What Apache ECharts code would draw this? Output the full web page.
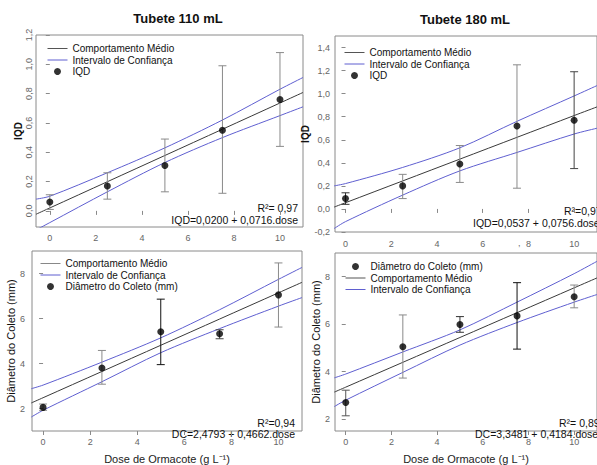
<!DOCTYPE html>
<html>
<head>
<meta charset="utf-8">
<script src="https://cdn.jsdelivr.net/npm/echarts@6/dist/echarts.min.js"></script>
<style>
html,body{margin:0;padding:0;background:#fff;}
#chart{width:597px;height:465px;}
</style>
</head>
<body>
<div id="chart"></div>
<script>
// ---------- data ----------
const doses = [0, 2.5, 5, 7.5, 10];
const xTicks = [0, 2, 4, 6, 8, 10];

// Tubete 110 mL - IQD
const iqd110 = [0.06, 0.17, 0.31, 0.55, 0.76];
const iqd110Hi = [0.11, 0.26, 0.49, 0.99, 1.08];
const iqd110Lo = [0.01, 0.08, 0.13, 0.12, 0.44];
// Tubete 180 mL - IQD
const iqd180 = [0.09, 0.20, 0.39, 0.72, 0.77];
const iqd180Hi = [0.14, 0.30, 0.55, 1.25, 1.19];
const iqd180Lo = [0.04, 0.09, 0.23, 0.18, 0.35];
// Tubete 110 mL - Diâmetro do Coleto
const dc110 = [2.05, 3.80, 5.41, 5.32, 7.05];
const dc110Hi = [2.20, 4.58, 6.86, 5.50, 8.47];
const dc110Lo = [1.92, 3.08, 3.95, 5.10, 5.62];
// Tubete 180 mL - Diâmetro do Coleto
const dc180 = [2.70, 5.05, 5.99, 6.35, 7.16];
const dc180Hi = [3.22, 6.39, 6.32, 7.75, 7.65];
const dc180Lo = [2.14, 3.73, 5.66, 4.95, 6.69];

// fitted lines and confidence bands
const bandX110 = [-0.6, 0, 2.5, 5, 7.5, 10, 11];
const bandX = [-0.5, 0, 2.5, 5, 7.5, 10, 11];
const iqd110Fit = [-0.023, 0.020, 0.199, 0.378, 0.557, 0.736, 0.808];
const iqd110Up  = [0.08, 0.10, 0.26, 0.43, 0.62, 0.83, 0.91];
const iqd110Low = [-0.13, -0.08, 0.13, 0.33, 0.50, 0.65, 0.71];
const iqd180Fit = [0.016, 0.054, 0.243, 0.432, 0.621, 0.810, 0.885];
const iqd180Up  = [0.20, 0.22, 0.36, 0.53, 0.76, 0.98, 1.07];
const iqd180Low = [-0.17, -0.11, 0.12, 0.33, 0.49, 0.65, 0.70];
const dc110Fit = [2.246, 2.479, 3.645, 4.810, 5.976, 7.141, 7.608];
const dc110Up  = [2.88, 3.04, 4.06, 5.14, 6.39, 7.74, 8.27];
const dc110Low = [1.62, 1.92, 3.19, 4.48, 5.55, 6.55, 6.93];
const dc180Fit = [3.139, 3.348, 4.394, 5.440, 6.486, 7.532, 7.950];
const dc180Up  = [3.74, 3.90, 4.83, 5.76, 6.93, 8.13, 8.65];
const dc180Low = [2.53, 2.80, 3.97, 5.12, 6.07, 6.93, 7.25];

const iqdTicks110 = [0, 0.2, 0.4, 0.6, 0.8, 1.0, 1.2];
const iqdTicks180 = [-0.2, 0, 0.2, 0.4, 0.6, 0.8, 1.0, 1.2, 1.4];
const dcTicks = [2, 4, 6, 8];

// ---------- styles ----------
const FONT = 'Liberation Sans, Arial, sans-serif';
const AX = '#8a8a8a';
const BLUE = '#5f5fd0';
const FITC = '#3a3a3a';
const errCol110 = ['#8a8a8a', '#8a8a8a', '#8a8a8a', '#8a8a8a', '#8a8a8a'];
const errCol180 = ['#333333', '#8a8a8a', '#8a8a8a', '#8a8a8a', '#444444'];
const errColDc110 = ['#8a8a8a', '#8a8a8a', '#111111', '#444444', '#8a8a8a'];
const errColDc180 = ['#555555', '#8a8a8a', '#333333', '#111111', '#8a8a8a'];

const comma = v => String(Number(v.toFixed(1))).replace('.', ',').replace(/^(-?\d+)$/, '$1,0');
const pairs = (xs, ys) => xs.map((x, i) => [x, ys[i]]);

function xAxis(gi, min, max, margin, name) {
  return {
    type: 'value', gridIndex: gi, min: min, max: max,
    splitLine: {show: false},
    axisLine: {show: false},
    axisTick: {show: true, inside: false, length: 4, lineStyle: {color: AX}, customValues: xTicks},
    axisLabel: {show: true, customValues: xTicks, margin: margin, color: '#666', fontSize: 9, fontFamily: FONT},
    name: name || '', nameLocation: 'middle', nameGap: 22,
    nameTextStyle: {color: '#222', fontSize: 11, fontFamily: FONT}
  };
}
function yAxis(gi, min, max, ticks, fmt, rotate, margin, name, nameGap, bold, nameSize) {
  return {
    type: 'value', gridIndex: gi, min: min, max: max,
    splitLine: {show: false},
    axisLine: {show: false},
    axisTick: {show: true, inside: false, length: 4, lineStyle: {color: AX}, customValues: ticks},
    axisLabel: {show: true, customValues: ticks, formatter: fmt, rotate: rotate, margin: margin,
                color: '#666', fontSize: 9, fontFamily: FONT},
    name: name, nameLocation: 'middle', nameGap: nameGap,
    nameTextStyle: {color: '#111', fontSize: nameSize, fontWeight: bold ? 'bold' : 'normal', fontFamily: FONT}
  };
}

function errSeries(gi, hi, lo, cols) {
  return {
    type: 'custom', xAxisIndex: gi, yAxisIndex: gi, silent: true, z: 3,
    data: doses.map((d, i) => [d, hi[i], lo[i], i]),
    renderItem: function (params, api) {
      const x = api.value(0);
      const p1 = api.coord([x, api.value(1)]);
      const p2 = api.coord([x, api.value(2)]);
      const c = cols[api.value(3)];
      const w = 4;
      const st = {stroke: c, lineWidth: 1};
      return {type: 'group', children: [
        {type: 'line', shape: {x1: p1[0], y1: p1[1], x2: p2[0], y2: p2[1]}, style: st},
        {type: 'line', shape: {x1: p1[0] - w, y1: p1[1], x2: p1[0] + w, y2: p1[1]}, style: st},
        {type: 'line', shape: {x1: p2[0] - w, y1: p2[1], x2: p2[0] + w, y2: p2[1]}, style: st}
      ]};
    }
  };
}
function pointSeries(gi, name, ys) {
  return {type: 'scatter', name: name, xAxisIndex: gi, yAxisIndex: gi, z: 5,
    symbol: 'circle', symbolSize: 7, itemStyle: {color: '#000'},
    data: pairs(doses, ys)};
}
function lineSeries(gi, name, xs, ys, color) {
  return {type: 'line', name: name, xAxisIndex: gi, yAxisIndex: gi, z: 2,
    showSymbol: false, symbol: 'none', smooth: 0.3, clip: true,
    lineStyle: {color: color, width: 1}, itemStyle: {color: color},
    data: pairs(xs, ys)};
}

const N1 = 'Comportamento Médio', N2 = 'Intervalo de Confiança', N3 = 'Diâmetro do Coleto (mm)';
const xName = 'Dose de Ormacote (g L⁻¹)';
const lineItem = (n, c) => ({name: n, itemStyle: {opacity: 0}, lineStyle: {width: 1, color: c}});
const dotItem = n => ({name: n, icon: 'circle', itemStyle: {color: '#000'}});

function legend(left, top, items) {
  return {
    left: left, top: top, orient: 'vertical', itemWidth: 20, itemHeight: 7, itemGap: 0.5,
    textStyle: {fontSize: 10, color: '#111', fontFamily: FONT, lineHeight: 11},
    selectedMode: false, padding: 0,
    data: items
  };
}

const grids = [
  {left: 36, top: 35, width: 267, height: 192},
  {left: 335, top: 36, width: 272, height: 196},
  {left: 32, top: 251, width: 270, height: 194},
  {left: 335, top: 253, width: 270, height: 192}
].map(g => Object.assign({show: true, borderColor: AX, borderWidth: 1, backgroundColor: 'transparent'}, g));

const option = {
  animation: false,
  backgroundColor: '#fff',
  textStyle: {fontFamily: FONT},
  grid: grids,
  xAxis: [
    xAxis(0, -0.6, 11, 6),
    xAxis(1, -0.46, 11, 7),
    xAxis(2, -0.47, 11, 6, xName),
    xAxis(3, -0.47, 11, 6, xName)
  ],
  yAxis: [
    yAxis(0, -0.11, 1.2, iqdTicks110, comma, 90, 3, 'IQD', 11, true, 10),
    yAxis(1, -0.2, 1.5, iqdTicks180, comma, 0, 5, 'IQD', 14, true, 10),
    yAxis(2, 1, 9, dcTicks, null, 0, 7, N3, 13, false, 11),
    yAxis(3, 1.5, 9, dcTicks, null, 0, 5, N3, 10, false, 11)
  ],
  legend: [
    legend(47, 43, [lineItem(N1, '#555'), lineItem(N2, BLUE), dotItem('IQD')]),
    legend(344, 47, [lineItem(N1, '#555'), lineItem(N2, BLUE), dotItem('IQD')]),
    legend(40, 258, [lineItem(N1, '#888'), lineItem(N2, BLUE), dotItem(N3)]),
    legend(345, 261, [dotItem(N3), lineItem(N1, '#555'), lineItem(N2, BLUE)])
  ],
  title: [
    {text: 'Tubete 110 mL', left: 173, top: 7, textAlign: 'center',
     textStyle: {fontSize: 13, fontWeight: 'bold', color: '#111', fontFamily: FONT}},
    {text: 'Tubete 180 mL', left: 460, top: 8, textAlign: 'center',
     textStyle: {fontSize: 13, fontWeight: 'bold', color: '#111', fontFamily: FONT}}
  ],
  graphic: [
    {type: 'text', right: 299, top: 202, style: {text: 'R²= 0,97', fill: '#111', font: '10.5px ' + FONT}},
    {type: 'text', right: 299, top: 214, style: {text: 'IQD=0,0200 + 0,0716.dose', fill: '#111', font: '10.5px ' + FONT}},
    {type: 'text', left: 564, top: 205, style: {text: 'R²=0,97', fill: '#111', font: '10.5px ' + FONT}},
    {type: 'text', left: 473, top: 217, style: {text: 'IQD=0,0537 + 0,0756.dose', fill: '#111', font: '10.5px ' + FONT}},
    {type: 'text', right: 302, top: 417, style: {text: 'R²=0,94', fill: '#111', font: '10.5px ' + FONT}},
    {type: 'text', right: 302, top: 428, style: {text: 'DC=2,4793 + 0,4662.dose', fill: '#111', font: '10.5px ' + FONT}},
    {type: 'text', left: 559, top: 417, style: {text: 'R²= 0,89', fill: '#111', font: '10.5px ' + FONT}},
    {type: 'text', left: 475, top: 428, style: {text: 'DC=3,3481 + 0,4184.dose', fill: '#111', font: '10.5px ' + FONT}},
    {type: 'text', left: 518, top: 238, style: {text: ',', fill: '#666', font: '9px ' + FONT}}
  ],
  series: [
    lineSeries(0, N2, bandX110, iqd110Up, BLUE),
    lineSeries(0, N2, bandX110, iqd110Low, BLUE),
    lineSeries(0, N1, bandX110, iqd110Fit, FITC),
    errSeries(0, iqd110Hi, iqd110Lo, errCol110),
    pointSeries(0, 'IQD', iqd110),

    lineSeries(1, N2, bandX, iqd180Up, BLUE),
    lineSeries(1, N2, bandX, iqd180Low, BLUE),
    lineSeries(1, N1, bandX, iqd180Fit, FITC),
    errSeries(1, iqd180Hi, iqd180Lo, errCol180),
    pointSeries(1, 'IQD', iqd180),

    lineSeries(2, N2, bandX, dc110Up, BLUE),
    lineSeries(2, N2, bandX, dc110Low, BLUE),
    lineSeries(2, N1, bandX, dc110Fit, FITC),
    errSeries(2, dc110Hi, dc110Lo, errColDc110),
    pointSeries(2, N3, dc110),

    lineSeries(3, N2, bandX, dc180Up, BLUE),
    lineSeries(3, N2, bandX, dc180Low, BLUE),
    lineSeries(3, N1, bandX, dc180Fit, FITC),
    errSeries(3, dc180Hi, dc180Lo, errColDc180),
    pointSeries(3, N3, dc180)
  ]
};

const chart = echarts.init(document.getElementById('chart'), null, {renderer: 'svg', width: 597, height: 465});
chart.setOption(option);
</script>
</body>
</html>
